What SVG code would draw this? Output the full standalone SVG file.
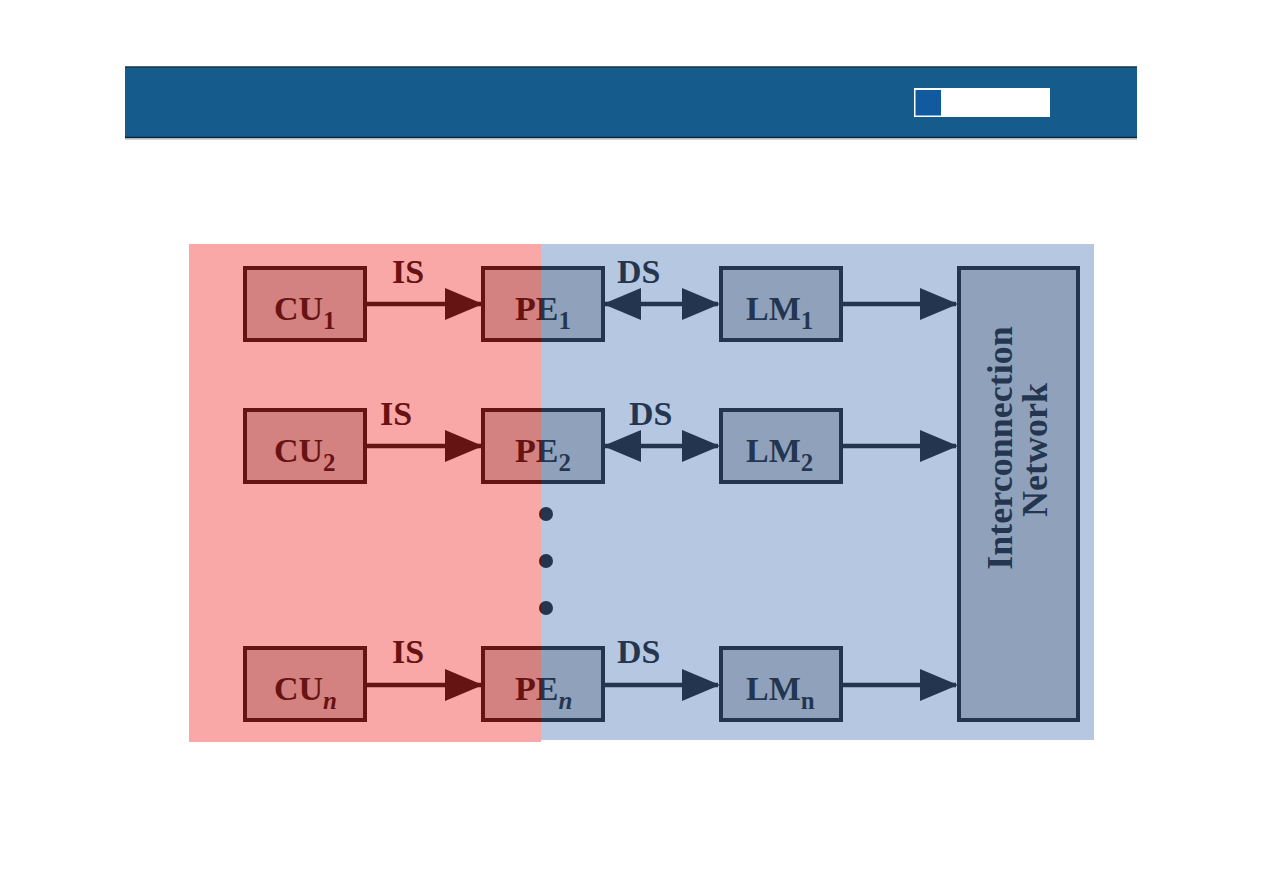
<svg xmlns="http://www.w3.org/2000/svg" width="1263" height="893" viewBox="0 0 1263 893">
  <style>
    .box { fill: #c2c2c2; stroke: #111; stroke-width: 4; }
    .lbl { font-family: "Liberation Serif", "Times New Roman", serif; font-weight: bold; font-size: 34px; fill: #111; }
    .sub { font-size: 25px; }
    .it { font-style: italic; }
    .con { stroke: #111; stroke-width: 4.5; fill: none; }
  </style>
  <defs>
    <marker id="ah" markerUnits="userSpaceOnUse" markerWidth="40" markerHeight="34" viewBox="0 0 40 34" refX="37" refY="17" orient="auto-start-reverse">
      <path d="M1,1 L39,17 L1,33 z" fill="#111"/>
    </marker>
  </defs>
  <rect width="1263" height="893" fill="#ffffff"/>

  <g id="header">
    <rect x="125" y="67" width="1012" height="71" fill="#155b8b"/>
    <line x1="125" y1="67" x2="1137" y2="67" stroke="#1b3347" stroke-width="1.5"/>
    <line x1="125" y1="137.5" x2="1137" y2="137.5" stroke="#0d2336" stroke-width="1.5"/>
    <line x1="125" y1="139" x2="1137" y2="139" stroke="#9aa6b0" stroke-width="1"/>
    <rect x="914" y="88" width="136" height="29" fill="#ffffff"/>
    <rect x="915.5" y="90" width="25.5" height="25.5" fill="#125aa0"/>
  </g>

  <g id="connectors">
    <line class="con" x1="366" y1="304" x2="481" y2="304" marker-end="url(#ah)"/>
    <line class="con" x1="605" y1="304" x2="718" y2="304" marker-start="url(#ah)" marker-end="url(#ah)"/>
    <line class="con" x1="841" y1="304" x2="956" y2="304" marker-end="url(#ah)"/>
    <line class="con" x1="366" y1="446" x2="481" y2="446" marker-end="url(#ah)"/>
    <line class="con" x1="605" y1="446" x2="718" y2="446" marker-start="url(#ah)" marker-end="url(#ah)"/>
    <line class="con" x1="841" y1="446" x2="956" y2="446" marker-end="url(#ah)"/>
    <line class="con" x1="366" y1="685" x2="481" y2="685" marker-end="url(#ah)"/>
    <line class="con" x1="603" y1="685" x2="718" y2="685" marker-end="url(#ah)"/>
    <line class="con" x1="841" y1="685" x2="956" y2="685" marker-end="url(#ah)"/>
    <text class="lbl" x="392" y="283">IS</text>
    <text class="lbl" x="617" y="283">DS</text>
    <text class="lbl" x="380" y="425">IS</text>
    <text class="lbl" x="629" y="425">DS</text>
    <text class="lbl" x="392" y="663">IS</text>
    <text class="lbl" x="617" y="663">DS</text>
  </g>

  <g id="cu1"><rect class="box" x="245" y="268" width="120" height="72"/><text class="lbl" x="274" y="320">CU<tspan class="sub" dy="9">1</tspan></text></g>
  <g id="pe1"><rect class="box" x="483" y="268" width="120" height="72"/><text class="lbl" x="515" y="320">PE<tspan class="sub" dy="9">1</tspan></text></g>
  <g id="lm1"><rect class="box" x="721" y="268" width="120" height="72"/><text class="lbl" x="746" y="320">LM<tspan class="sub" dy="9">1</tspan></text></g>

  <g id="cu2"><rect class="box" x="245" y="410" width="120" height="72"/><text class="lbl" x="274" y="462">CU<tspan class="sub" dy="9">2</tspan></text></g>
  <g id="pe2"><rect class="box" x="483" y="410" width="120" height="72"/><text class="lbl" x="515" y="462">PE<tspan class="sub" dy="9">2</tspan></text></g>
  <g id="lm2"><rect class="box" x="721" y="410" width="120" height="72"/><text class="lbl" x="746" y="462">LM<tspan class="sub" dy="9">2</tspan></text></g>

  <g id="cun"><rect class="box" x="245" y="648" width="120" height="72"/><text class="lbl" x="274" y="700">CU<tspan class="sub it" dy="9">n</tspan></text></g>
  <g id="pen"><rect class="box" x="483" y="648" width="120" height="72"/><text class="lbl" x="515" y="700">PE<tspan class="sub it" dy="9">n</tspan></text></g>
  <g id="lmn"><rect class="box" x="721" y="648" width="120" height="72"/><text class="lbl" x="746" y="700">LM<tspan class="sub" dy="9">n</tspan></text></g>

  <g id="network">
    <rect class="box" x="959" y="268" width="119" height="452"/>
    <text class="lbl" text-anchor="middle" transform="translate(1012,448) rotate(-90)" style="font-size:36px">Interconnection</text>
    <text class="lbl" text-anchor="middle" transform="translate(1047,450) rotate(-90)" style="font-size:36px">Network</text>
  </g>

  <g id="ellipsis">
    <circle cx="546" cy="514" r="7" fill="#111"/>
    <circle cx="546" cy="561" r="7" fill="#111"/>
    <circle cx="546" cy="608" r="7" fill="#111"/>
  </g>

  <g id="overlay">
    <rect x="189" y="244" width="352" height="498" fill="#f01818" fill-opacity="0.38"/>
    <rect x="541" y="244" width="553" height="496" fill="#4371b1" fill-opacity="0.39"/>
  </g>
</svg>
